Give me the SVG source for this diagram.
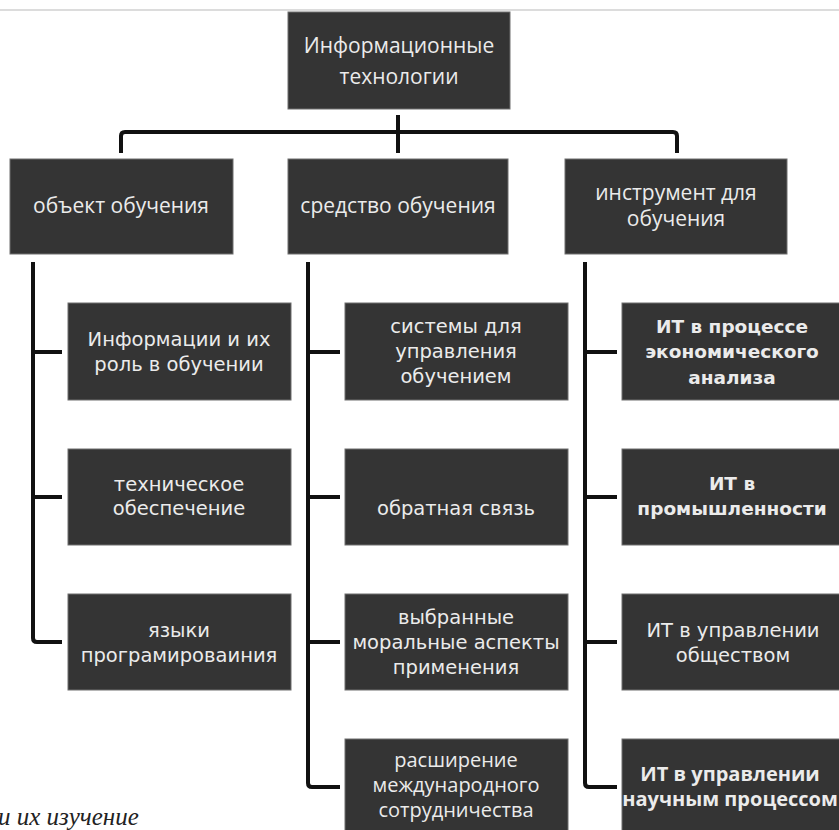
<svg xmlns="http://www.w3.org/2000/svg" width="839" height="830" viewBox="0 0 839 830">
<style>
.box{fill:#343434;stroke:#6e6e6e;stroke-width:1}
.t{fill:#ebebeb;text-anchor:middle;font-family:"Open Sans","Noto Sans",sans-serif;font-size:21px}
.s{fill:#ebebeb;text-anchor:middle;font-family:"Open Sans","Noto Sans",sans-serif;font-size:20px}
.v{fill:#ebebeb;text-anchor:middle;font-family:"DejaVu Sans",sans-serif;font-size:19.5px}
.b{fill:#ebebeb;text-anchor:middle;font-family:"DejaVu Sans",sans-serif;font-size:18.5px;font-weight:bold}
.c{fill:none;stroke:#111;stroke-width:4;stroke-linejoin:round}
</style>
<rect width="839" height="830" fill="#fff"/>
<line x1="0" y1="10" x2="839" y2="10" stroke="#d0d0d0" stroke-width="1.5"/>
<g id="connectors">
<path class="c" d="M398 115 V153"/>
<path class="c" d="M121 153 V136 Q121 132 125 132 H673 Q677 132 677 136 V153"/>
<path class="c" d="M33 262 V638 Q33 642 37 642 H62 M33 352 H62 M33 497 H62"/>
<path class="c" d="M308 262 V783 Q308 787 312 787 H340 M308 352 H340 M308 497 H340 M308 642 H340"/>
<path class="c" d="M585 262 V783 Q585 787 589 787 H617 M585 352 H617 M585 497 H617 M585 642 H617"/>
</g>
<g id="root"><rect class="box" x="288" y="12" width="222" height="97"/>
<text class="t" x="399" y="53">Информационные</text><text class="t" x="399" y="84">технологии</text></g>
<g id="n1"><rect class="box" x="10" y="159" width="223" height="95"/>
<text class="t" x="121" y="213">объект обучения</text></g>
<g id="n2"><rect class="box" x="288" y="159" width="220" height="95"/>
<text class="t" x="398" y="213">средство обучения</text></g>
<g id="n3"><rect class="box" x="565" y="159" width="222" height="95"/>
<text class="t" x="676" y="200">инструмент для</text><text class="t" x="676" y="226">обучения</text></g>
<g id="n1a"><rect class="box" x="68" y="303" width="223" height="97"/>
<text class="v" x="179" y="346">Информации и их</text><text class="v" x="179" y="371">роль в обучении</text></g>
<g id="n1b"><rect class="box" x="68" y="449" width="223" height="96"/>
<text class="v" x="179" y="491">техническое</text><text class="v" x="179" y="515">обеспечение</text></g>
<g id="n1c"><rect class="box" x="68" y="594" width="223" height="96"/>
<text class="v" x="179" y="637">языки</text><text class="v" x="179" y="662">програмироваиния</text></g>
<g id="n2a"><rect class="box" x="345" y="303" width="223" height="97"/>
<text class="v" x="456" y="333">системы для</text><text class="v" x="456" y="358">управления</text><text class="v" x="456" y="383">обучением</text></g>
<g id="n2b"><rect class="box" x="345" y="449" width="223" height="96"/>
<text class="v" x="456" y="515">обратная связь</text></g>
<g id="n2c"><rect class="box" x="345" y="594" width="223" height="96"/>
<text class="v" x="456" y="624">выбранные</text><text class="v" x="456" y="649">моральные аспекты</text><text class="v" x="456" y="674">применения</text></g>
<g id="n2d"><rect class="box" x="345" y="739" width="223" height="100"/>
<text class="s" x="456" y="767">расширение</text><text class="s" x="456" y="792">международного</text><text class="s" x="456" y="817">сотрудничества</text></g>
<g id="n3a"><rect class="box" x="622" y="303" width="225" height="97"/>
<text class="b" x="732" y="333">ИТ в процессе</text><text class="b" x="732" y="358">экономического</text><text class="b" x="732" y="384">анализа</text></g>
<g id="n3b"><rect class="box" x="622" y="449" width="225" height="96"/>
<text class="b" x="732" y="490">ИТ в</text><text class="b" x="732" y="515">промышленности</text></g>
<g id="n3c"><rect class="box" x="622" y="594" width="225" height="96"/>
<text class="v" x="733" y="637">ИТ в управлении</text><text class="v" x="733" y="662">обществом</text></g>
<g id="n3d"><rect class="box" x="622" y="739" width="225" height="100"/>
<text class="s" x="730" y="781" font-weight="bold">ИТ в управлении</text><text class="s" x="730" y="806" font-weight="bold" font-size="19.5">научным процессом</text></g>
<text x="-2" y="825" font-family="Liberation Serif,serif" font-style="italic" font-size="25" fill="#222">и их изучение</text>
</svg>
